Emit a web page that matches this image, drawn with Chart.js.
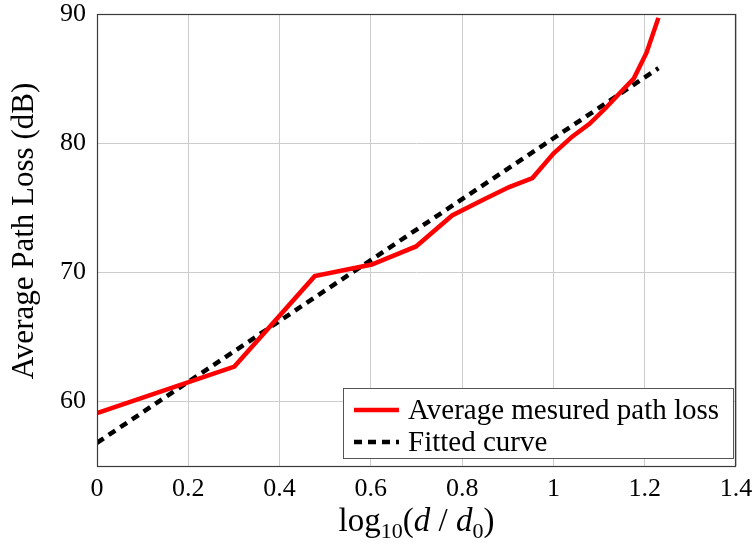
<!DOCTYPE html>
<html lang="en">
<head>
    <meta charset="UTF-8">
    <title>Average Path Loss</title>
    <script src="https://cdn.jsdelivr.net/npm/chart.js"></script>
    <style>
        body { margin: 0; background: #fff; }
        #wrap { width: 756px; height: 548px; }
    </style>
</head>
<body>
<div id="wrap">
    <canvas id="plChart" width="756" height="548"></canvas>
</div>

<script>
    // log10(d/d0) for d = 1..17 and the measured average path loss (dB)
    const logDist = [0, 0.301, 0.477, 0.602, 0.699, 0.778, 0.845, 0.903, 0.954, 1.0, 1.041, 1.079, 1.114, 1.146, 1.176, 1.204, 1.230];
    const measuredLoss = [59.1, 62.7, 69.7, 70.6, 72.0, 74.4, 75.6, 76.6, 77.3, 79.2, 80.5, 81.5, 82.7, 83.9, 85.0, 87.0, 89.7];

    // fitted straight line, end points
    const fitX = [0, 1.23];
    const fitY = [56.8, 85.8];

    const yTicks = [60, 70, 80, 90];
    const seriesLabels = ['Average mesured path loss', 'Fitted curve'];

    const SERIF = "'Liberation Serif', 'DejaVu Serif', serif";

    // frame, legend box and axis titles
    const decorations = {
        id: 'decorations',
        afterDraw(chart) {
            const ctx = chart.ctx;
            const a = chart.chartArea;
            ctx.save();

            // axis box
            ctx.strokeStyle = '#3a3a3a';
            ctx.lineWidth = 1.2;
            ctx.strokeRect(a.left + 0.5, a.top + 0.5, a.right - a.left - 1, a.bottom - a.top);

            // legend
            const lx = 343, ly = 388, lw = 390, lh = 70;
            ctx.fillStyle = '#fff';
            ctx.fillRect(lx, ly, lw, lh);
            ctx.strokeStyle = '#555';
            ctx.lineWidth = 1;
            ctx.strokeRect(lx + 0.5, ly + 0.5, lw, lh);
            const ds = chart.data.datasets;
            ctx.font = '29px ' + SERIF;
            ctx.textBaseline = 'alphabetic';
            ds.forEach((d, i) => {
                const cy = ly + 22 + i * 32;
                ctx.beginPath();
                ctx.strokeStyle = d.borderColor;
                ctx.lineWidth = d.borderWidth;
                ctx.setLineDash(d.borderDash || []);
                ctx.moveTo(354, cy);
                ctx.lineTo(399, cy);
                ctx.stroke();
                ctx.setLineDash([]);
                ctx.fillStyle = '#000';
                ctx.textAlign = 'left';
                ctx.fillText(d.label, 408, cy + 9);
            });

            // y title
            ctx.fillStyle = '#000';
            ctx.save();
            ctx.translate(25, 231);
            ctx.rotate(-Math.PI / 2);
            ctx.font = '31px ' + SERIF;
            ctx.textAlign = 'center';
            ctx.textBaseline = 'middle';
            ctx.fillText('Average Path Loss (dB)', 0, 0);
            ctx.restore();

            // x title: log10(d / d0) with subscripts and italic d
            const parts = [
                { t: 'log', f: '33px ' + SERIF, dy: 0 },
                { t: '10', f: '22px ' + SERIF, dy: 7 },
                { t: '(', f: '33px ' + SERIF, dy: 0 },
                { t: 'd', f: 'italic 33px ' + SERIF, dy: 0 },
                { t: ' / ', f: '33px ' + SERIF, dy: 0 },
                { t: 'd', f: 'italic 33px ' + SERIF, dy: 0 },
                { t: '0', f: '22px ' + SERIF, dy: 7 },
                { t: ')', f: '33px ' + SERIF, dy: 0 }
            ];
            let total = 0;
            parts.forEach(p => { ctx.font = p.f; p.w = ctx.measureText(p.t).width; total += p.w; });
            let px = (a.left + a.right) / 2 - total / 2;
            ctx.textAlign = 'left';
            ctx.textBaseline = 'alphabetic';
            parts.forEach(p => {
                ctx.font = p.f;
                ctx.fillText(p.t, px, 531 + p.dy);
                px += p.w;
            });

            ctx.restore();
        }
    };

    const ctx = document.getElementById('plChart').getContext('2d');
    const chart = new Chart(ctx, {
        type: 'line',
        data: {
            datasets: [
                {
                    label: seriesLabels[0],
                    data: logDist.map((x, i) => ({ x: x, y: measuredLoss[i] })),
                    borderColor: '#ff0000',
                    borderWidth: 4.5,
                    pointRadius: 0,
                    tension: 0,
                    fill: false
                },
                {
                    label: seriesLabels[1],
                    data: fitX.map((x, i) => ({ x: x, y: fitY[i] })),
                    borderColor: '#000000',
                    borderWidth: 4.5,
                    borderDash: [8, 6],
                    pointRadius: 0,
                    fill: false
                }
            ]
        },
        options: {
            responsive: false,
            animation: false,
            layout: { padding: { left: 0, right: 20, top: 14, bottom: 0 } },
            plugins: {
                legend: { display: false },
                tooltip: { enabled: false }
            },
            scales: {
                x: {
                    type: 'linear',
                    min: 0,
                    max: 1.4,
                    border: { display: false },
                    grid: { color: '#cccccc', lineWidth: 1, drawTicks: false },
                    ticks: {
                        stepSize: 0.2,
                        padding: 8,
                        color: '#000',
                        font: { family: SERIF, size: 26 },
                        callback: v => String(+v.toFixed(1))
                    },
                    afterFit: s => {
                        s.height = 82;
                        s.paddingLeft = 0;
                        s.paddingRight = 0;
                    }
                },
                y: {
                    min: 55,
                    max: 90,
                    border: { display: false },
                    grid: { color: '#cccccc', lineWidth: 1, drawTicks: false },
                    afterBuildTicks: s => { s.ticks = yTicks.map(v => ({ value: v })); },
                    ticks: {
                        padding: 11,
                        color: '#000',
                        font: { family: SERIF, size: 26 }
                    },
                    afterFit: s => {
                        s.width = 97;
                        s.paddingTop = 0;
                        s.paddingBottom = 0;
                    }
                }
            }
        },
        plugins: [decorations]
    });
</script>
</body>
</html>
